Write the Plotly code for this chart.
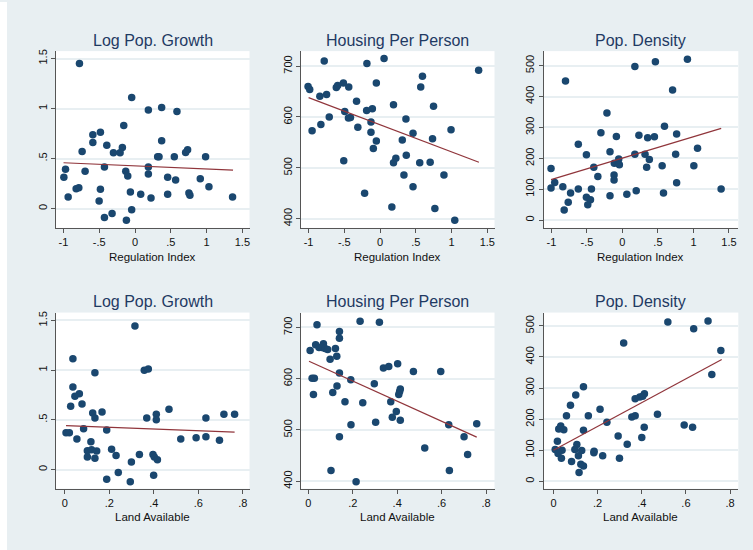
import plotly.graph_objects as go

# ---------------- data ----------------
# Panel 1: Log Pop. Growth vs Regulation Index
p1_x = [-0.777, -0.047, 0.186, 0.372, 0.586, -0.59, -0.484, -0.158, -0.59, 0.372,
        -0.395, -0.74, -0.177, -0.302, -0.209, 0.735, 0.707, 0.316, 0.335, 0.549,
        0.986, -0.972, -0.428, 0.186, -0.698, -0.130, -0.995, -0.102, 0.186, 0.456,
        0.567, 0.912, -0.823, -0.786, -0.484, 1.033, -0.935, -0.065, 0.079, 0.223,
        0.456, 0.753, 0.767, 1.363, -0.502, -0.047, -0.321, -0.428, -0.121]
p1_y = [1.45, 1.11, 0.986, 1.01, 0.97, 0.737, 0.763, 0.83, 0.66, 0.677,
        0.634, 0.571, 0.61, 0.557, 0.557, 0.587, 0.561, 0.518, 0.518, 0.518,
        0.518, 0.392, 0.415, 0.415, 0.372, 0.372, 0.312, 0.325, 0.345, 0.312,
        0.285, 0.299, 0.199, 0.209, 0.192, 0.219, 0.116, 0.166, 0.143, 0.106,
        0.143, 0.156, 0.133, 0.116, 0.076, -0.013, -0.05, -0.09, -0.116]
p1_fit_x = [-1.0, 1.37]
p1_fit_y = [0.458, 0.385]

# Panel 2: Housing Per Person vs Regulation Index
p2_x = [0.056, -0.781, -0.184, 1.379, 0.593, -1.007, -0.984, -0.513, -0.612, -0.593,
        -0.438, -0.052, 0.569, -0.842, -0.748, -0.329, 0.188, 0.748, -0.188, -0.108,
        -0.494, -0.711, -0.414, -0.442, 0.362, -0.127, -0.951, -0.828, -0.311, 0.993,
        -0.127, 0.461, 0.734, -0.052, 0.311, -0.094, 0.367, 0.221, -0.508, 0.188,
        0.555, 0.701, 0.334, 0.894, 0.461, -0.216, 0.165, 0.767, 1.045]
p2_y = [715, 710, 705, 692, 680, 660, 654, 667, 658, 662,
        659, 667, 659, 641, 644, 631, 624, 621, 613, 616,
        611, 600, 599, 598, 596, 590, 573, 585, 580, 575,
        570, 568, 557, 553, 555, 538, 525, 519, 514, 510,
        510, 511, 486, 486, 463, 450, 423, 420, 397]
p2_fit_x = [-1.0, 1.383]
p2_fit_y = [638, 511]

# Panel 3: Pop. Density vs Regulation Index
p3_x = [0.915, 0.175, 0.464, -0.801, 0.706, -0.218, -0.303, 0.592, -0.621, -0.085,
        0.232, 0.355, 0.450, 0.763, -0.175, -0.507, 0.175, 0.318, 0.749, 1.057,
        0.379, -0.052, -0.062, -0.114, -0.043, -1.005, -0.403, 0.341, 0.559, 1.005,
        -0.118, -0.346, -0.118, -0.953, 0.763, -1.005, -0.839, -0.621, -0.436, 1.389,
        -0.730, 0.062, 0.194, 0.578, -0.507, -0.450, -0.175, -0.763, -0.488, -0.820]
p3_y = [521, 497, 513, 450, 421, 347, 283, 304, 246, 271,
        275, 267, 270, 279, 221, 212, 213, 213, 213, 233,
        196, 198, 185, 184, 179, 167, 171, 171, 176, 176,
        146, 141, 130, 122, 121, 104, 108, 101, 101, 101,
        88, 84, 95, 88, 74, 66, 79, 58, 50, 33]
p3_fit_x = [-1.005, 1.39]
p3_fit_y = [131, 297]

# Panel 4: Log Pop. Growth vs Land Available
p4_x = [0.315, 0.036, 0.135, 0.357, 0.375, 0.036, 0.065, 0.045, 0.026, 0.077,
        0.125, 0.167, 0.135, 0.468, 0.368, 0.411, 0.411, 0.634, 0.715, 0.763,
        0.084, 0.188, 0.005, 0.020, 0.054, 0.521, 0.590, 0.634, 0.695, 0.117,
        0.101, 0.120, 0.143, 0.210, 0.101, 0.135, 0.230, 0.335, 0.396, 0.402,
        0.416, 0.299, 0.240, 0.188, 0.294, 0.399]
p4_y = [1.443, 1.115, 0.974, 0.998, 1.011, 0.830, 0.763, 0.737, 0.636, 0.660,
        0.569, 0.579, 0.519, 0.606, 0.519, 0.556, 0.502, 0.519, 0.556, 0.556,
        0.412, 0.398, 0.372, 0.372, 0.308, 0.308, 0.321, 0.331, 0.295, 0.281,
        0.191, 0.201, 0.187, 0.204, 0.127, 0.114, 0.141, 0.151, 0.151, 0.127,
        0.100, 0.077, -0.030, -0.097, -0.121, -0.057]
p4_fit_x = [0.005, 0.763]
p4_fit_y = [0.442, 0.378]

# Panel 5: Housing Per Person vs Land Available
p5_x = [0.233, 0.320, 0.039, 0.140, 0.140, 0.033, 0.068, 0.048, 0.060, 0.075,
        0.087, 0.008, 0.122, 0.128, 0.098, 0.402, 0.338, 0.362, 0.473, 0.596,
        0.140, 0.017, 0.027, 0.191, 0.297, 0.414, 0.411, 0.407, 0.110, 0.129,
        0.023, 0.165, 0.245, 0.371, 0.396, 0.378, 0.414, 0.303, 0.192, 0.632,
        0.758, 0.140, 0.701, 0.524, 0.717, 0.102, 0.635, 0.215]
p5_y = [712, 710, 705, 692, 679, 666, 668, 661, 661, 659,
        657, 655, 659, 644, 638, 629, 621, 624, 614, 614,
        611, 601, 601, 598, 590, 580, 575, 569, 573, 586,
        569, 555, 553, 555, 536, 525, 519, 515, 510, 510,
        512, 487, 487, 465, 452, 421, 421, 399]
p5_fit_x = [0.003, 0.758]
p5_fit_y = [634, 486]

# Panel 6: Pop. Density vs Land Available
p6_x = [0.700, 0.518, 0.635, 0.758, 0.318, 0.717, 0.136, 0.101, 0.412, 0.391,
        0.370, 0.404, 0.077, 0.211, 0.059, 0.158, 0.355, 0.370, 0.471, 0.242,
        0.592, 0.630, 0.411, 0.024, 0.033, 0.047, 0.136, 0.293, 0.400, 0.018,
        0.106, 0.334, 0.008, 0.039, 0.128, 0.184, 0.183, 0.097, 0.021, 0.113,
        0.223, 0.036, 0.299, 0.082, 0.124, 0.136, 0.116]
p6_y = [516, 513, 491, 421, 445, 344, 304, 278, 282, 271,
        266, 274, 245, 232, 211, 211, 207, 211, 216, 190,
        181, 174, 174, 168, 178, 166, 164, 146, 141, 129,
        118, 119, 102, 100, 99, 97, 92, 102, 89, 82,
        82, 74, 74, 64, 55, 49, 28]
p6_fit_x = [0.0, 0.762]
p6_fit_y = [100, 392]

titles = ["Log Pop. Growth", "Housing Per Person", "Pop. Density",
          "Log Pop. Growth", "Housing Per Person", "Pop. Density"]
xtitles = ["Regulation Index", "Land Available"]

reg_ticks = [-1, -0.5, 0, 0.5, 1, 1.5]
reg_labels = ["-1", "-.5", "0", ".5", "1", "1.5"]
land_ticks = [0, 0.2, 0.4, 0.6, 0.8]
land_labels = ["0", ".2", ".4", ".6", ".8"]
growth_ticks = [0, 0.5, 1, 1.5]
growth_labels = ["0", ".5", "1", "1.5"]
housing_ticks = [400, 500, 600, 700]
housing_labels = ["400", "500", "600", "700"]
density_ticks = [0, 100, 200, 300, 400, 500]
density_labels = ["0", "100", "200", "300", "400", "500"]

# ---------------- layout geometry ----------------
W, H = 753, 550
BG = "#E8EFF2"
NAVY = "#1A476F"
MAROON = "#90353B"
FONT = "Liberation Sans, Arial, sans-serif"

col_px = [(56, 249.5), (301, 494.5), (543.5, 738.3)]
row_px = [(49.3, 226.7), (311.7, 488.5)]

def xdom(c):
    a, b = col_px[c]
    return [a / W, b / W]

def ydom(r):
    t, b = row_px[r]
    return [(H - b) / H, (H - t) / H]

panels = [
    (p1_x, p1_y, p1_fit_x, p1_fit_y, [-1.105, 1.6], [-0.193, 1.574], reg_ticks, reg_labels, growth_ticks, growth_labels),
    (p2_x, p2_y, p2_fit_x, p2_fit_y, [-1.106, 1.601], [382, 729.5], reg_ticks, reg_labels, housing_ticks, housing_labels),
    (p3_x, p3_y, p3_fit_x, p3_fit_y, [-1.111, 1.631], [-25, 547], reg_ticks, reg_labels, density_ticks, density_labels),
    (p4_x, p4_y, p4_fit_x, p4_fit_y, [-0.04, 0.83], [-0.192, 1.579], land_ticks, land_labels, growth_ticks, growth_labels),
    (p5_x, p5_y, p5_fit_x, p5_fit_y, [-0.033, 0.838], [385.4, 729], land_ticks, land_labels, housing_ticks, housing_labels),
    (p6_x, p6_y, p6_fit_x, p6_fit_y, [-0.045, 0.837], [-24, 543], land_ticks, land_labels, density_ticks, density_labels),
]

fig = go.Figure()
layout = dict(
    width=W, height=H,
    margin=dict(l=0, r=0, t=0, b=0),
    paper_bgcolor=BG, plot_bgcolor="white",
    showlegend=False,
    font=dict(family=FONT, size=11, color="#111111"),
)
annotations = []

for i, (xs, ys, fx, fy, xr, yr, xt, xl, yt, yl) in enumerate(panels):
    r, c = divmod(i, 3)
    n = "" if i == 0 else str(i + 1)
    xa, ya = "x" + n, "y" + n
    fig.add_trace(go.Scatter(x=xs, y=ys, mode="markers", xaxis=xa, yaxis=ya,
                             marker=dict(color=NAVY, size=7.5, line=dict(width=0)),
                             hoverinfo="skip"))
    fig.add_trace(go.Scatter(x=fx, y=fy, mode="lines", xaxis=xa, yaxis=ya,
                             line=dict(color=MAROON, width=1.2), hoverinfo="skip"))
    layout["xaxis" + n] = dict(
        domain=xdom(c), anchor=ya, range=xr, tickvals=xt, ticktext=xl,
        showgrid=False, zeroline=False, showline=True, linecolor="#555555", linewidth=1,
        ticks="outside", ticklen=4, tickcolor="#555555", tickwidth=1,
        tickfont=dict(family=FONT, size=11, color="#111111"), fixedrange=True,
    )
    layout["yaxis" + n] = dict(
        domain=ydom(r), anchor=xa, range=yr, tickvals=yt, ticktext=yl,
        showgrid=True, gridcolor=BG, gridwidth=2, zeroline=False,
        showline=True, linecolor="#555555", linewidth=1,
        ticks="outside", ticklen=4, tickcolor="#555555", tickwidth=1,
        tickangle=-90, tickfont=dict(family=FONT, size=11, color="#111111"),
        fixedrange=True,
    )
    xc = (col_px[c][0] + col_px[c][1]) / 2 / W
    ty = [38.3, 300.7][r]
    annotations.append(dict(text=titles[i], x=xc, y=1 - ty / H, xref="paper", yref="paper",
                            xanchor="center", yanchor="middle", showarrow=False,
                            font=dict(family=FONT, size=16, color="#1F3A63")))
    xty = [256, 517][r]
    annotations.append(dict(text=xtitles[r], x=xc, y=1 - xty / H, xref="paper", yref="paper",
                            xanchor="center", yanchor="middle", showarrow=False,
                            font=dict(family=FONT, size=11.5, color="#111111")))

layout["annotations"] = annotations
layout["shapes"] = [dict(type="rect", xref="paper", yref="paper", x0=0, x1=7 / W, y0=0, y1=1,
                         fillcolor="white", line=dict(width=0), layer="below")]
fig.update_layout(**layout)
fig.write_html("out.html")
